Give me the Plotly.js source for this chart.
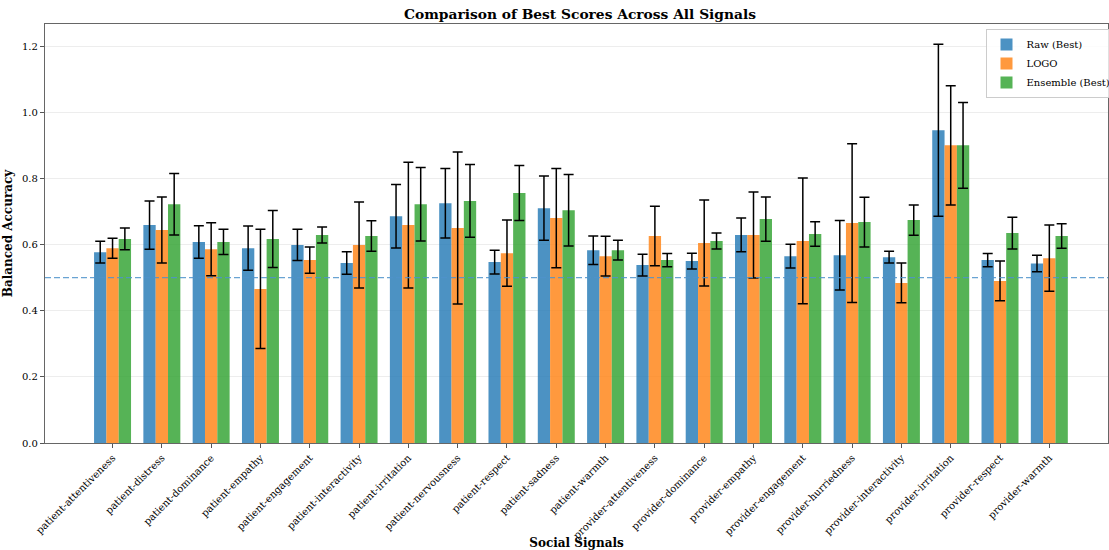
<!DOCTYPE html>
<html>
<head>
<meta charset="utf-8">
<script src="https://cdn.plot.ly/plotly-3.0.1.min.js"></script>
<style>html,body{margin:0;padding:0;background:#fff;}#chart{width:1109px;height:550px;}</style>
</head>
<body>
<div id="chart"></div>
<script>
const categories = ["patient-attentiveness","patient-distress","patient-dominance","patient-empathy","patient-engagement","patient-interactivity","patient-irritation","patient-nervousness","patient-respect","patient-sadness","patient-warmth","provider-attentiveness","provider-dominance","provider-empathy","provider-engagement","provider-hurriedness","provider-interactivity","provider-irritation","provider-respect","provider-warmth"];

const rawBest    = [0.577,0.659,0.608,0.589,0.599,0.544,0.686,0.725,0.547,0.710,0.583,0.538,0.550,0.629,0.565,0.568,0.562,0.946,0.553,0.543];
const rawErr     = [0.033,0.073,0.049,0.067,0.047,0.034,0.096,0.105,0.036,0.097,0.043,0.033,0.024,0.051,0.036,0.105,0.018,0.260,0.020,0.025];
const logo       = [0.589,0.644,0.586,0.466,0.553,0.599,0.659,0.650,0.574,0.680,0.565,0.626,0.605,0.629,0.611,0.665,0.484,0.900,0.490,0.559];
const logoErr    = [0.030,0.100,0.080,0.180,0.040,0.130,0.190,0.230,0.100,0.150,0.060,0.090,0.130,0.130,0.190,0.240,0.060,0.180,0.060,0.100];
const ensBest    = [0.617,0.722,0.608,0.617,0.629,0.626,0.722,0.732,0.756,0.704,0.583,0.553,0.611,0.677,0.632,0.668,0.674,0.900,0.635,0.626];
const ensErr     = [0.033,0.093,0.038,0.086,0.024,0.046,0.111,0.110,0.083,0.108,0.030,0.020,0.024,0.067,0.037,0.075,0.046,0.130,0.048,0.037];
const seriesNames = ["Raw (Best)","LOGO","Ensemble (Best)"];
const yTicks = [0.0,0.2,0.4,0.6,0.8,1.0,1.2];
const chanceLevel = 0.5;

const font = "DejaVu Serif, serif";
const colors = ["rgba(31,119,180,0.8)","rgba(255,127,14,0.8)","rgba(44,160,44,0.8)"];
const vals = [rawBest, logo, ensBest];
const errs = [rawErr, logoErr, ensErr];

const traces = vals.map((v,k)=>({
  type:"bar", name:seriesNames[k], x:categories, y:v,
  marker:{color:colors[k], line:{width:0}},
  error_y:{type:"data", array:errs[k], visible:true, color:"#000", thickness:1.5, width:5},
  hoverinfo:"y"
}));

const layout = {
  width:1109, height:550,
  margin:{l:45, r:1, t:24, b:107, autoexpand:false},
  paper_bgcolor:"#fff", plot_bgcolor:"#fff",
  barmode:"group", bargap:0.25, bargroupgap:0,
  font:{family:font, size:10, color:"#000"},
  title:{text:"<b>Comparison of Best Scores Across All Signals</b>", font:{family:font, size:13.8, color:"#000"}, x:0.523, xanchor:"center", y:0.975, yanchor:"middle"},
  xaxis:{
    type:"category", range:[-1.37, 20.19],
    tickangle:-45, tickfont:{family:font, size:10, color:"#000"},
    ticks:"outside", ticklen:4, tickcolor:"#555",
    showline:true, linecolor:"#666", linewidth:1.2, mirror:true,
    showgrid:false, zeroline:false,
    title:{text:"<b>Social Signals</b>", font:{family:font, size:12, color:"#000"}, standoff:4}
  },
  yaxis:{
    range:[0,1.267], tickvals:yTicks, ticktext:yTicks.map(t=>t.toFixed(1)),
    tickfont:{family:font, size:10, color:"#000"},
    ticks:"outside", ticklen:4, tickcolor:"#555",
    showline:true, linecolor:"#666", linewidth:1.2, mirror:true,
    showgrid:true, gridcolor:"rgba(0,0,0,0.07)", gridwidth:1, zeroline:false,
    title:{text:"<b>Balanced Accuracy</b>", font:{family:font, size:12, color:"#000"}, standoff:6}
  },
  shapes:[{type:"line", xref:"paper", x0:0, x1:1, yref:"y", y0:chanceLevel, y1:chanceLevel,
    line:{color:"#4f93cc", width:1.4, dash:"6px,3px"}, opacity:0.85, layer:"above"}],
  legend:{x:1.008, xanchor:"right", y:0.988, yanchor:"top", bgcolor:"rgba(255,255,255,0.8)",
    bordercolor:"#ccc", borderwidth:1, font:{family:font, size:10, color:"#000"},
    tracegroupgap:0, itemwidth:30},
  showlegend:true
};

Plotly.newPlot("chart", traces, layout, {displayModeBar:false, staticPlot:true});
</script>
</body>
</html>
